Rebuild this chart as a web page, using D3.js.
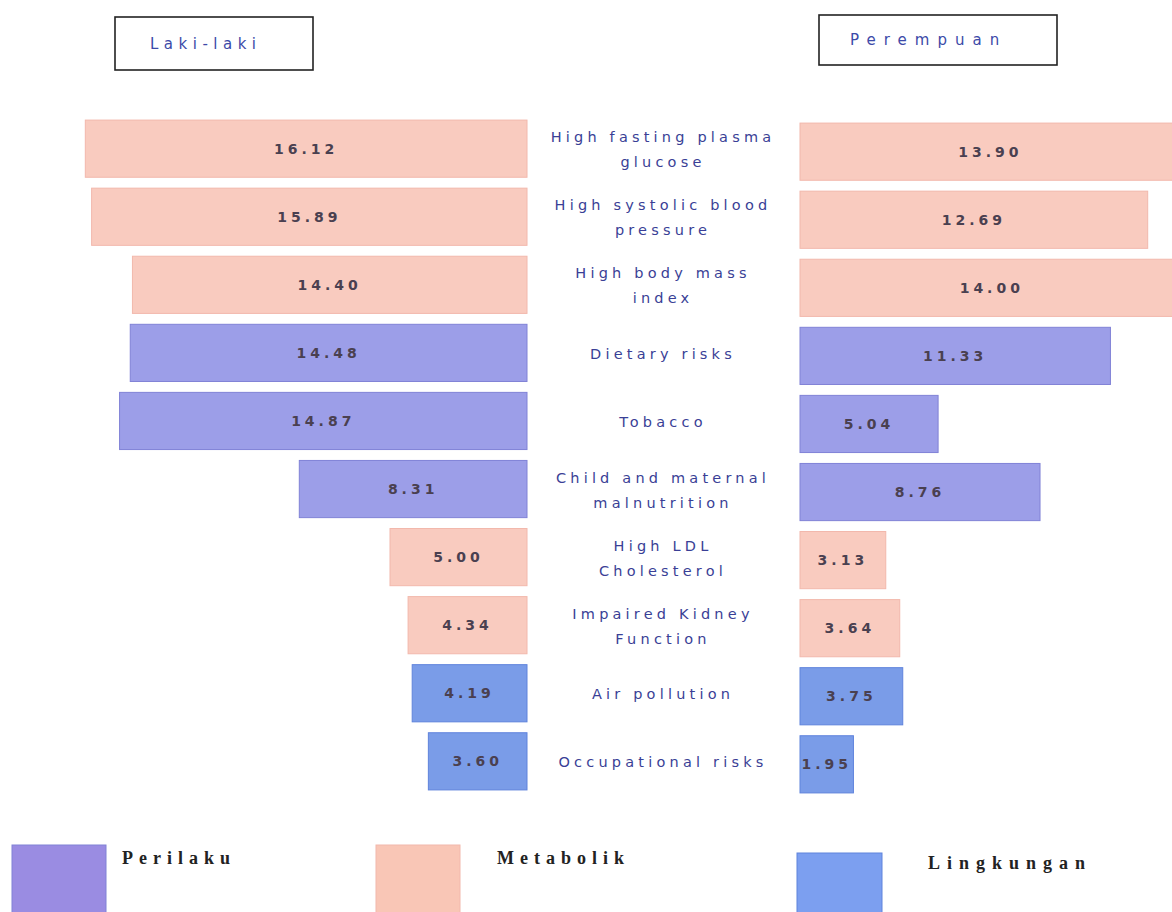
<!DOCTYPE html>
<html>
<head>
<meta charset="utf-8">
<script src="https://cdn.jsdelivr.net/npm/d3@7"></script>
<style>
  body { margin: 0; background: #fff; }
  svg { display: block; }
</style>
</head>
<body>
<svg id="chart"></svg>
<script>
// risk factors, top to bottom
const risks = ["High fasting plasma glucose", "High systolic blood pressure", "High body mass index", "Dietary risks", "Tobacco", "Child and maternal malnutrition", "High LDL Cholesterol", "Impaired Kidney Function", "Air pollution", "Occupational risks"];
const riskLines = [["High fasting plasma", "glucose"], ["High systolic blood", "pressure"], ["High body mass", "index"], ["Dietary risks"], ["Tobacco"], ["Child and maternal", "malnutrition"], ["High LDL", "Cholesterol"], ["Impaired Kidney", "Function"], ["Air pollution"], ["Occupational risks"]];
const groups = ["Metabolik", "Metabolik", "Metabolik", "Perilaku", "Perilaku", "Perilaku", "Metabolik", "Metabolik", "Lingkungan", "Lingkungan"];
const male = [16.12, 15.89, 14.40, 14.48, 14.87, 8.31, 5.00, 4.34, 4.19, 3.60];
const female = [13.90, 12.69, 14.00, 11.33, 5.04, 8.76, 3.13, 3.64, 3.75, 1.95];
const legendGroups = ["Perilaku", "Metabolik", "Lingkungan"];

const width = 1172, height = 912;
const fills = {Perilaku: "#9c9ee8", Metabolik: "#f9cbbf", Lingkungan: "#7a9ce8"};
const strokes = {Perilaku: "#8082d6", Metabolik: "#f2b8ac", Lingkungan: "#5f83dc"};
const legendFills = {Perilaku: "#9a8ce2", Metabolik: "#f9c6b6", Lingkungan: "#7c9ff0"};

const svg = d3.select("#chart").attr("width", width).attr("height", height);

const y = d3.scaleBand().domain(risks).range([116, 794]).paddingInner(0.16).paddingOuter(0.06);
const pxPerUnit = 27.4;
const leftEdge = 527, rightEdge = 800, labelX = 663;
const xLeft = d3.scaleLinear().domain([0, 1]).range([leftEdge, leftEdge - pxPerUnit]);
const xRight = d3.scaleLinear().domain([0, 1]).range([rightEdge, rightEdge + pxPerUnit]);

// header boxes
const headers = [
  {text: "Laki-laki", x: 115, y: 17, w: 198, h: 53, tx: 150, ls: 5.5},
  {text: "Perempuan", x: 819, y: 15, w: 238, h: 50, tx: 850, ls: 8}
];
const hg = svg.selectAll("g.header").data(headers).enter().append("g").attr("class", "header");
hg.append("rect")
  .attr("x", d => d.x).attr("y", d => d.y).attr("width", d => d.w).attr("height", d => d.h)
  .attr("fill", "#fff").attr("stroke", "#222").attr("stroke-width", 1.6);
hg.append("text")
  .attr("x", d => d.tx).attr("y", d => d.y + d.h / 2 + 5)
  .attr("font-family", "DejaVu Sans, sans-serif").attr("font-size", 15)
  .attr("letter-spacing", d => d.ls).attr("fill", "#3c4aa8")
  .text(d => d.text);

// left bars (Laki-laki)
svg.selectAll("rect.male").data(risks).enter().append("rect").attr("class", "male")
  .attr("x", (d, i) => xLeft(male[i]))
  .attr("y", d => y(d))
  .attr("width", (d, i) => xLeft(0) - xLeft(male[i]))
  .attr("height", y.bandwidth())
  .attr("fill", (d, i) => fills[groups[i]])
  .attr("stroke", (d, i) => strokes[groups[i]]).attr("stroke-width", 1);

// right bars (Perempuan)
svg.selectAll("rect.female").data(risks).enter().append("rect").attr("class", "female")
  .attr("x", xRight(0))
  .attr("y", d => y(d) + 3)
  .attr("width", (d, i) => xRight(female[i]) - xRight(0))
  .attr("height", y.bandwidth())
  .attr("fill", (d, i) => fills[groups[i]])
  .attr("stroke", (d, i) => strokes[groups[i]]).attr("stroke-width", 1);

// value labels
function valueLabels(cls, vals, xs, dy) {
  svg.selectAll("text." + cls).data(risks).enter().append("text").attr("class", cls)
    .attr("x", (d, i) => (xs(0) + xs(vals[i])) / 2)
    .attr("y", d => y(d) + y.bandwidth() / 2 + 5 + dy)
    .attr("text-anchor", "middle")
    .attr("font-family", "DejaVu Sans, sans-serif").attr("font-size", 14).attr("font-weight", "bold")
    .attr("letter-spacing", 4).attr("fill", "#4a4050")
    .text((d, i) => vals[i].toFixed(2));
}
valueLabels("mval", male, xLeft, 0);
valueLabels("fval", female, xRight, 3);

// category labels in the middle
const lineH = 25;
const lab = svg.selectAll("text.risk").data(risks).enter().append("text").attr("class", "risk")
  .attr("text-anchor", "middle")
  .attr("font-family", "DejaVu Sans, sans-serif").attr("font-size", 14.5)
  .attr("letter-spacing", 4.2).attr("fill", "#3a3f96");
lab.each(function(d, i) {
  const lines = riskLines[i];
  const cy = y(d) + y.bandwidth() / 2 + 6 - (lines.length - 1) * lineH / 2;
  d3.select(this).selectAll("tspan").data(lines).enter().append("tspan")
    .attr("x", labelX).attr("y", (l, j) => cy + j * lineH)
    .text(l => l);
});

// legend
const legend = [
  {g: legendGroups[0], x: 12, y: 845, w: 94, tx: 122, ty: 864, ls: 6},
  {g: legendGroups[1], x: 376, y: 845, w: 84, tx: 497, ty: 864, ls: 6},
  {g: legendGroups[2], x: 797, y: 853, w: 85, tx: 928, ty: 869, ls: 7}
];
const lg = svg.selectAll("g.legend").data(legend).enter().append("g").attr("class", "legend");
lg.append("rect")
  .attr("x", d => d.x).attr("y", d => d.y).attr("width", d => d.w).attr("height", d => height - d.y + 2)
  .attr("fill", d => legendFills[d.g]).attr("stroke", d => strokes[d.g]);
lg.append("text")
  .attr("x", d => d.tx).attr("y", d => d.ty)
  .attr("font-family", "Liberation Serif, serif").attr("font-size", 18).attr("font-weight", "bold")
  .attr("letter-spacing", d => d.ls).attr("fill", "#222")
  .text(d => d.g);
</script>
</body>
</html>
